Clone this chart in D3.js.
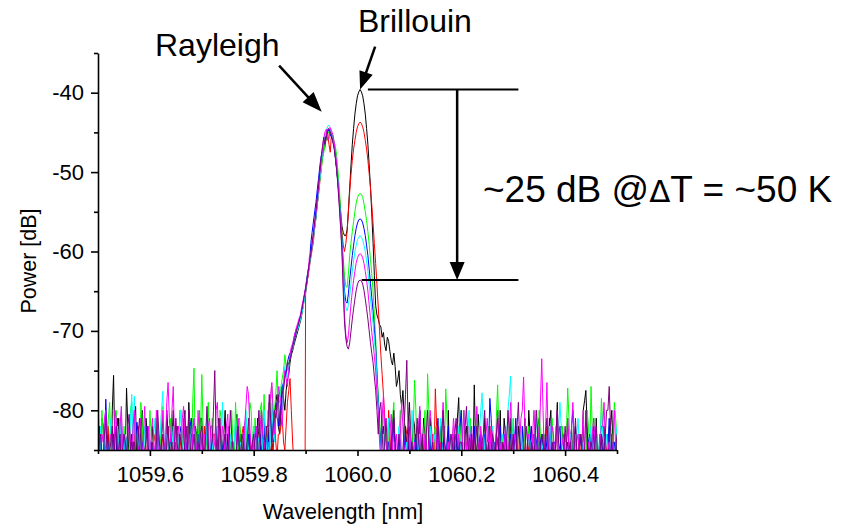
<!DOCTYPE html>
<html><head><meta charset="utf-8">
<script src="https://cdn.jsdelivr.net/npm/d3@7"></script>
<style>
body{margin:0;background:#fff}
svg{display:block}
text{font-family:"Liberation Sans",Arial,Helvetica,sans-serif;fill:#000}
</style>
</head><body>
<svg id="chart" width="846" height="525"></svg>
<script>
// ---------- data ----------
// sampling grid of the spectrum (nm): main samples every wlStep, "mid" samples half a step later
const wlStart = 1059.5;
const wlStep = 0.005;
const xTicksMajor = [1059.6, 1059.8, 1060.0, 1060.2, 1060.4];
const xTicksMinor = [1059.5, 1059.7, 1059.9, 1060.1, 1060.3, 1060.5];
const yTicksMajor = [-80, -70, -60, -50, -40];
const yTicksMinor = [-85, -75, -65, -55, -45, -35];
const seriesNames = ["black", "red", "green", "blue", "cyan", "magenta", "purple"];
const seriesColors = ["#000000", "#ff0000", "#00ff00", "#0000ff", "#00ffff", "#ff00ff", "#800080"];

// power [dB], main samples (201 per series)
const sBlack = [
-84,-88,-82,-86,-83,-90,-75.6,-86,-81,-88,
-83,-77.2,-87,-84,-81,-89,-85,-80,-87,-83,
-88,-82,-86,-84,-90,-81,-86,-83,-88,-80,
-86,-84,-89,-82,-87,-79,-85,-88,-83,-86,
-81,-89,-84,-87,-82,-86,-90,-83,-85,-80,
-87,-84,-88,-82,-86,-83,-89,-81,-85,-87,
-82,-88,-84,-80,-86,-83,-79,-85,-81,-78,
-83,-77,-80,-76,-74,-72.5,-71.2,-70,-68.8,-67,
-65.2,-62.8,-60.5,-58.2,-55.8,-52.4,-49.2,-47.2,-45.3,-44.7,
-45.5,-46.8,-49.8,-53.2,-56.8,-58,-57.3,-51.9,-46.5,-42.7,
-40.4,-39.6,-40.4,-42.7,-46.5,-51.9,-58.9,-66.8,-68.5,-69.5,
-70.2,-72.5,-71.3,-73.7,-72.8,-77,-75,-79.5,-81,-84,
-79,-86,-82,-88,-80,-85,-83,-89,-81,-86,
-84,-88,-82,-85,-90,-80,-86,-83,-88,-78.4,
-85,-87,-82,-89,-84,-76.8,-86,-83,-88,-81,
-85,-87,-82,-89,-84,-80,-86,-83,-88,-81,
-85,-90,-82,-86,-84,-88,-80,-85,-83,-89,
-81,-86,-84,-88,-82,-85,-90,-79,-86,-83,
-88,-81,-85,-87,-82,-89,-84,-80,-77.5,-86,
-83,-88,-81,-85,-87,-82,-89,-84,-80,-86,
-83];
const sRed = [
-87,-83,-89,-85,-82,-88,-84,-90,-86,-81,
-88,-84,-86,-90,-83,-87,-85,-82,-89,-84,
-86,-88,-83,-90,-85,-84,-87,-82,-89,-86,
-84,-88,-85,-81,-87,-89,-83,-86,-90,-84,
-87,-82,-88,-85,-89,-83,-86,-84,-90,-85,
-88,-83,-86,-89,-84,-87,-82,-88,-85,-90,
-84,-87,-83,-89,-86,-82,-88,-84,-80,-86,
-83,-81,-85,-79,-76,-84,-88,-120,-120,-120,
-65,-63,-60.8,-58.8,-55.2,-52.8,-49.6,-46.8,-45.2,-46.5,
-45,-46.6,-49.5,-53,-57.5,-60,-57.5,-52.5,-48.5,-46,
-44.3,-43.7,-44.3,-46,-48.5,-52,-56.5,-61.5,-67,-73,
-78,-84,-80,-87,-82,-89,-84,-86,-90,-83,
-87,-85,-89,-82,-86,-88,-84,-90,-85,-83,
-77.3,-88,-84,-86,-89,-83,-87,-85,-90,-82,
-86,-88,-84,-87,-89,-83,-86,-90,-84,-88,
-85,-82,-87,-89,-84,-86,-90,-83,-87,-85,
-88,-82,-86,-89,-84,-87,-85,-90,-83,-86,
-88,-84,-89,-82,-87,-85,-90,-84,-86,-88,
-83,-89,-85,-87,-84,-90,-86,-82,-88,-85,
-87,-83,-89,-86,-84,-88,-85,-90,-83,-87,
-85];
const sGreen = [
-79,-86,-83,-88,-81,-85,-89,-80,-87,-84,
-82,-88,-85,-79,-86,-83,-89,-81,-87,-84,
-80,-86,-88,-83,-85,-79.5,-87,-84,-81,-89,
-83,-86,-80,-88,-85,-82,-87,-74.7,-84,-86,
-75.5,-88,-83,-86,-81,-89,-84,-80,-87,-85,
-82,-88,-84,-79,-86,-83,-89,-81,-85,-80,
-87,-83,-86,-79,-78,-85,-82,-77,-80,-75,
-79,-76,-73,-75,-73.5,-71.8,-70.5,-69.6,-68.5,-66.6,
-64.8,-62.5,-60,-58,-55,-52,-49.8,-47.5,-45.8,-44.9,
-45,-46.2,-48,-52,-58,-63,-64.5,-60.5,-57.5,-55,
-53.2,-52.7,-53.2,-55,-57.5,-61,-65,-71,-78,-84,
-80,-87,-82,-85,-79,-88,-83,-86,-81,-89,
-84,-86,-76.2,-87,-83,-88,-80,-75.4,-85,-88,
-82,-86,-84,-89,-77.3,-85,-87,-82,-88,-84,
-86,-80,-89,-83,-86,-88,-81,-85,-87,-83,
-89,-85,-82,-88,-76.8,-86,-83,-89,-84,-87,
-81,-86,-88,-83,-85,-89,-82,-86,-84,-88,
-80,-86,-83,-89,-85,-81,-87,-84,-88,-82,
-86,-77.2,-85,-88,-83,-86,-89,-84,-87,-82,
-77,-86,-83,-88,-78.5,-85,-87,-82,-88,-79,
-84];
const sBlue = [
-86,-84,-89,-78.6,-85,-88,-83,-87,-90,-82,
-86,-84,-88,-83,-89,-81.5,-86,-84,-90,-83,
-87,-85,-89,-82,-86,-88,-84,-90,-83,-87,
-85,-89,-82,-86,-84,-88,-81,-87,-85,-89,
-83,-86,-80.5,-88,-84,-87,-82,-89,-85,-86,
-83,-88,-84,-90,-82,-87,-85,-89,-83,-86,
-88,-82,-85,-87,-81,-84,-86,-80,-83,-79,
-81,-77,-75,-74,-72.8,-72,-70.2,-69.5,-68.2,-66.8,
-64.5,-62.3,-59,-56.3,-53.8,-50.8,-48,-46.5,-45.4,-44.6,
-45.6,-46.8,-49.6,-53.4,-58.5,-65,-66.5,-63.5,-60.5,-58,
-56.4,-55.9,-56.4,-58,-60.5,-64,-67.5,-72,-79,-85,
-82,-88,-84,-86,-81,-89,-83,-87,-85,-90,
-82,-86,-84,-88,-80,-87,-85,-89,-83,-86,
-88,-81,-87,-84,-89,-82,-86,-88,-83,-85,
-80,-87,-89,-84,-86,-82,-88,-85,-87,-83,
-89,-78.5,-86,-84,-88,-82,-87,-85,-89,-83,
-86,-81,-88,-84,-87,-85,-90,-82,-86,-84,
-88,-83,-89,-85,-81,-87,-84,-88,-82,-86,
-89,-84,-87,-80,-85,-88,-83,-86,-89,-84,
-87,-82,-86,-88,-83,-85,-89,-81,-86,-84,
-88];
const sCyan = [
-85,-82,-88,-84,-87,-81,-89,-83,-86,-80,
-88,-84,-86,-78,-78.2,-87,-83,-89,-82,-86,
-84,-88,-81,-86,-83,-77.6,-87,-84,-89,-82,
-86,-84,-80,-88,-83,-86,-89,-81,-85,-87,
-83,-88,-80,-86,-84,-89,-82,-87,-79,-85,
-88,-83,-86,-81,-89,-84,-87,-80,-85,-88,
-82,-86,-84,-89,-80,-85,-87,-79,-84,-81,
-77,-80,-74.5,-76,-73.2,-72.3,-70.8,-69.8,-68.5,-67.2,
-65,-62.6,-60.6,-58.4,-55.6,-52.6,-49.2,-46.2,-44.8,-44.1,
-45.2,-46.6,-49.2,-53.6,-59,-66,-67.5,-65.5,-62.5,-60,
-58.5,-58,-58.5,-60,-62.5,-66,-69,-73,-79.5,-86,
-83,-88,-81,-87,-84,-89,-82,-86,-88,-84,
-87,-80,-86,-89,-83,-87,-85,-88,-82,-86,
-84,-89,-81,-87,-85,-88,-83,-86,-89,-82,
-87,-84,-86,-80,-88,-85,-87,-83,-77.8,-86,
-84,-89,-82,-87,-85,-88,-83,-86,-80,-75.7,
-87,-84,-88,-82,-86,-89,-83,-87,-85,-81,
-88,-84,-86,-89,-82,-87,-85,-88,-79,-86,
-84,-89,-83,-87,-85,-81,-88,-84,-86,-89,
-82,-87,-84,-88,-80,-86,-83,-89,-85,-87,
-82];
const sMagenta = [
-82,-88,-84,-80,-87,-83,-89,-81,-86,-79.5,
-85,-88,-82,-86,-80,-89,-84,-87,-79.5,-85,
-88,-81,-86,-83,-89,-80,-85,-76.5,-84,-77,
-88,-82,-86,-79.5,-87,-84,-89,-81,-85,-80,
-87,-83,-88,-81,-86,-84,-79,-89,-82,-86,
-80.5,-88,-84,-87,-81,-86,-89,-79.5,-78,-85,
-88,-82,-86,-80,-84,-87,-81,-76.5,-83,-80,
-78,-82,-75,-77,-73,-71.6,-70.2,-69,-68,-66.2,
-64.6,-62.8,-60.4,-58,-55.2,-52,-48.6,-45.8,-44.6,-45.8,
-44.8,-46.2,-49,-54,-59.5,-68,-71.5,-68.5,-65,-62.5,
-60.8,-60.3,-60.8,-62.5,-65,-68.5,-71.5,-75,-80,-86,
-78,-84,-88,-80.5,-86,-83,-89,-79,-85,-87,
-81,-88,-84,-86,-79.5,-89,-83,-87,-80,-85,
-88,-82,-86,-79,-87,-84,-89,-81,-86,-83,
-88,-80,-85,-87,-82,-89,-79.5,-86,-84,-88,
-81,-86,-83,-89,-80,-85,-87,-82,-88,-79,
-86,-84,-89,-81,-75.8,-87,-83,-88,-80,-86,
-84,-73.5,-86,-76.5,-88,-82,-86,-80,-89,-84,
-87,-81,-86,-79,-88,-83,-86,-80,-89,-84,
-87,-81,-86,-88,-82,-79,-87,-84,-89,-80,
-86];
const sPurple = [
-88,-83,-86,-81,-89,-84,-87,-82,-85,-89,
-83,-86,-80.5,-88,-84,-87,-81,-89,-85,-82,
-87,-84,-89,-80,-86,-83,-88,-82,-85,-87,
-81,-86,-84,-89,-82,-80,-87,-83,-88,-85,
-82,-86,-79.5,-88,-84,-75,-87,-81,-86,-83,
-89,-80,-85,-88,-82,-86,-84,-89,-81,-86,
-83,-87,-80,-85,-88,-82,-78,-84,-80,-79,
-82,-78,-76,-74,-73.6,-72,-70.8,-69.4,-68.2,-66.5,
-64.8,-62.4,-60.3,-57.6,-54.8,-51.6,-48.2,-45.6,-45.6,-44.5,
-45.4,-47,-49.8,-54.4,-60,-69,-72,-71.5,-68.5,-66,
-64.1,-63.6,-64.1,-66,-68.5,-71.5,-74,-77.5,-83,-79,
-86,-81,-88,-84,-80,-87,-83,-89,-82,-73.7,
-86,-84,-88,-81,-86,-83,-89,-80,-86,-84,
-88,-82,-87,-80,-85,-89,-83,-86,-81,-88,
-84,-87,-79.5,-86,-83,-89,-82,-87,-84,-80,
-86,-88,-83,-86,-81,-89,-84,-87,-80,-86,
-83,-88,-79,-85,-87,-82,-89,-84,-86,-80,
-88,-83,-86,-81,-89,-84,-87,-80,-85,-88,
-82,-86,-84,-89,-81,-87,-83,-86,-80,-88,
-84,-86,-82,-89,-83,-86,-80,-77,-85,-88,
-83];

// power [dB], mid samples (200 per series, half a step after each main sample)
const mBlack = [
-87,-81,-89,-84,-86,-80,-85,-83,-90,-84,
-86,-82,-85,-88,-79.5,-86,-83,-88,-81,-86,
-84,-87,-81,-89,-83,-86,-80,-88,-84,-86,
-82,-88,-85,-80,-86,-83,-89,-82,-87,-81,
-86,-84,-88,-82,-85,-89,-81,-86,-83,-87,
-82,-89,-85,-80.5,-87,-84,-82,-88,-83,-86,
-85,-81,-87,-83,-82,-86,-80,-84,-79,-82,
-80,-78.5,-77.5,-75.5,-73,-71.8,-70.6,-69.4,-68,-66,
-64,-61.6,-59.4,-57,-54.1,-50.8,-48.1,-46.2,-44.9,-45,
-46.1,-48.2,-51.5,-55,-57.6,-58,-54.8,-49.1,-44.5,-41.4,
-39.9,-39.9,-41.4,-44.5,-49.1,-55.2,-63,-68,-69.2,-70.8,
-71.8,-70.8,-72.6,-74.3,-74.5,-76.2,-78,-77.5,-83,-82,
-83,-81,-86,-84,-87,-81,-86,-84,-88,-83,
-86,-84,-89,-82,-85,-87,-83,-86,-81,-85,
-88,-83,-86,-82,-87,-84,-80.5,-88,-84,-86,
-82,-86,-88,-83,-85,-87,-81,-86,-84,-88,
-83,-86,-84,-88,-81,-86,-83,-87,-85,-82,
-87,-83,-88,-85,-80,-86,-83,-87,-82,-85,
-84,-87,-82,-86,-88,-83,-85,-78.8,-82,-87,
-85,-84,-87,-83,-86,-84,-88,-82,-85,-87];
const mRed = [
-84,-87,-83,-88,-85,-82,-89,-84,-87,-85,
-83,-89,-85,-86,-88,-82,-86,-84,-87,-86,
-89,-84,-86,-87,-83,-88,-85,-86,-84,-88,
-86,-83,-87,-84,-88,-85,-89,-83,-86,-87,
-84,-89,-85,-87,-83,-86,-88,-82,-87,-84,
-86,-88,-84,-85,-89,-83,-86,-87,-84,-86,
-88,-85,-86,-84,-83,-87,-85,-86,-84,-83,
-82,-84,-82,-77.5,-80,-87,-100,-120,-120,-120,
-64,-61.9,-59.8,-57,-54,-51.2,-48.2,-46.9,-45,-47.5,
-45.8,-48,-51.2,-55.3,-59.2,-59,-55,-50.3,-47.1,-45,
-43.9,-43.9,-45,-47.1,-50.2,-54.1,-59,-64.2,-70,-75.5,
-81,-86,-83,-85,-88,-84,-87,-85,-82,-88,
-84,-88,-86,-84,-89,-85,-87,-83,-88,-86,
-82,-86,-89,-84,-87,-85,-83,-88,-86,-89,
-84,-87,-85,-88,-84,-86,-89,-83,-87,-85,
-88,-84,-86,-83,-87,-89,-85,-86,-84,-88,
-85,-87,-83,-88,-86,-84,-89,-85,-87,-84,
-86,-89,-84,-87,-85,-88,-83,-86,-89,-85,
-87,-84,-86,-88,-85,-83,-87,-89,-84,-86,
-88,-85,-87,-84,-86,-89,-83,-87,-85,-86];
const mGreen = [
-83,-80,-86,-84,-79,-88,-83,-85,-81,-87,
-84,-86,-80,-88,-83,-85,-79,-86,-82,-87,
-83,-85,-81,-87,-80,-86,-83,-88,-85,-82,
-88,-80,-85,-83,-87,-81,-79,-86,-80,-83,
-82,-85,-79,-87,-84,-83,-86,-81,-84,-88,
-85,-80,-87,-83,-81,-88,-84,-86,-79,-84,
-81,-85,-80,-84,-83,-80,-79,-82,-78,-79,
-77,-75,-74.5,-74,-72.5,-71,-70,-69,-67.6,-65.8,
-63.5,-61.3,-58.8,-56.8,-53.3,-51,-48.4,-46.4,-45.2,-45.4,
-45.4,-46.8,-50,-54.8,-60.8,-64.4,-62.8,-58.9,-56.2,-53.9,
-52.8,-52.8,-54,-56.1,-59.1,-62.8,-68,-75,-81,-82,
-85,-83,-88,-81,-86,-84,-80,-87,-85,-83,
-88,-82,-80,-85,-86,-83,-87,-80,-86,-83,
-87,-84,-82,-86,-81,-88,-84,-86,-83,-80,
-84,-87,-85,-81,-89,-84,-83,-87,-84,-86,
-82,-88,-85,-81,-83,-88,-85,-86,-82,-84,
-87,-83,-85,-86,-82,-84,-87,-85,-80,-86,
-83,-85,-87,-82,-86,-84,-82,-86,-85,-84,
-83,-81,-87,-84,-85,-88,-83,-86,-80,-85,
-83,-81,-85,-84,-82,-87,-84,-86,-83,-81];
const mBlue = [
-82,-87,-85,-83,-87,-84,-86,-81,-85,-87,
-83,-88,-85,-86,-84,-83,-88,-86,-82,-86,
-84,-87,-83,-86,-84,-85,-88,-85,-86,-84,
-88,-83,-87,-84,-86,-82,-85,-88,-83,-86,
-85,-84,-87,-83,-86,-84,-88,-85,-83,-88,
-86,-84,-87,-83,-85,-86,-83,-84,-87,-85,
-84,-86,-83,-82,-85,-83,-81,-84,-80,-82,
-79,-76.5,-75.5,-73.2,-72.5,-71,-69.7,-68.8,-67.6,-65.6,
-63.3,-61.4,-57.6,-55,-52.2,-49.2,-47.4,-46,-44.9,-45.3,
-46,-48.2,-51.5,-56,-62,-66.3,-65.3,-62,-59.2,-57.1,
-56,-56,-57.1,-59.2,-62.2,-65.8,-69.8,-75.5,-82,-83,
-86,-84,-87,-83,-85,-86,-84,-88,-82,-86,
-84,-87,-83,-85,-84,-88,-86,-84,-87,-85,
-84,-86,-85,-87,-84,-88,-85,-84,-86,-82,
-85,-88,-86,-83,-87,-85,-86,-83,-84,-88,
-85,-81,-88,-86,-84,-85,-83,-87,-84,-86,
-84,-85,-86,-82,-85,-88,-84,-86,-83,-87,
-84,-86,-83,-87,-85,-84,-86,-83,-87,-85,
-85,-86,-82,-84,-87,-85,-84,-88,-86,-83,
-85,-84,-88,-85,-86,-83,-85,-87,-84,-86];
const mCyan = [
-88,-85,-83,-86,-84,-87,-85,-82,-84,-87,
-83,-87,-81,-84,-86,-85,-84,-86,-87,-83,
-86,-83,-85,-84,-80,-85,-83,-86,-85,-84,
-87,-82,-85,-86,-84,-83,-85,-86,-84,-83,
-86,-85,-84,-83,-87,-85,-84,-83,-86,-84,
-85,-86,-84,-86,-85,-86,-83,-84,-86,-85,
-84,-83,-86,-84,-83,-84,-82,-83,-80,-79,
-79,-76,-75.5,-74.5,-72.6,-71.5,-70.2,-69.2,-67.8,-66,
-63.7,-61.7,-59.5,-57,-54,-50.8,-47.5,-45.3,-44.2,-44.5,
-45.7,-47.8,-51.2,-56.5,-63,-67,-66.7,-64,-61.2,-59.2,
-58.2,-58.2,-59.2,-61.2,-64.2,-67.5,-71,-76.5,-83,-84,
-85,-84,-86,-85,-87,-84,-85,-86,-85,-86,
-84,-83,-87,-85,-84,-86,-87,-84,-85,-83,
-86,-85,-84,-86,-87,-85,-84,-88,-85,-84,
-85,-86,-83,-84,-86,-87,-84,-80,-82,-85,
-86,-85,-84,-86,-87,-84,-85,-83,-78,-82,
-85,-86,-84,-85,-87,-85,-84,-86,-83,-84,
-86,-85,-87,-84,-85,-86,-86,-83,-82,-85,
-86,-85,-84,-86,-83,-85,-86,-85,-87,-84,
-85,-86,-83,-84,-83,-85,-86,-87,-86,-85];
const mMagenta = [
-86,-83,-81,-85,-84,-88,-80,-84,-82,-85,
-87,-83,-84,-82,-86,-85,-81,-83,-87,-82,
-83,-84,-80,-87,-83,-84,-79,-81,-80,-84,
-83,-85,-81,-84,-82,-87,-83,-84,-82,-86,
-83,-86,-82,-84,-85,-80,-84,-85,-83,-82,
-85,-84,-86,-83,-84,-87,-82,-77,-82,-84,
-83,-85,-82,-83,-86,-82,-78,-80,-81,-77,
-79,-77.5,-76,-75,-72,-70.8,-69.5,-68.4,-67,-65.4,
-63.8,-60.5,-59.1,-56.4,-53.5,-50.2,-47,-44.9,-46,-44.4,
-45.3,-47.6,-51.5,-56.8,-64,-70.5,-70.6,-66.6,-63.6,-61.4,
-60.4,-60.4,-61.5,-63.6,-66.7,-70.2,-73.2,-78,-84,-81,
-82,-87,-83,-85,-84,-87,-83,-82,-86,-83,
-84,-85,-87,-82,-85,-86,-84,-83,-82,-86,
-84,-85,-82,-84,-85,-88,-84,-83,-85,-86,
-83,-84,-82,-84,-86,-83,-84,-82,-85,-83,
-84,-82,-86,-84,-83,-84,-85,-84,-83,-84,
-83,-85,-84,-80,-82,-84,-86,-83,-84,-82,
-79,-80,-82,-84,-85,-83,-84,-87,-85,-83,
-84,-85,-82,-85,-84,-86,-84,-85,-86,-84,
-83,-84,-85,-84,-82,-84,-85,-86,-84,-85];
const mPurple = [
-84,-86,-83,-85,-85,-82,-84,-86,-83,-85,
-84,-82,-85,-84,-86,-83,-84,-85,-84,-86,
-85,-86,-84,-83,-84,-85,-84,-86,-84,-85,
-84,-83,-85,-84,-85,-84,-85,-85,-84,-83,
-85,-83,-84,-85,-80,-83,-84,-85,-84,-85,
-84,-83,-86,-84,-85,-83,-86,-84,-85,-84,
-85,-83,-84,-86,-84,-82,-81,-82,-81,-78,
-80,-77.2,-75,-74.2,-72.8,-71.4,-70,-68.8,-67.4,-65.6,
-63.6,-61.4,-59,-56.2,-53.2,-49.9,-46.8,-46.5,-44.6,-44.9,
-46.2,-48.3,-52,-57,-65,-71,-72.3,-70,-67.2,-64.9,
-63.7,-63.7,-64.9,-67.2,-70,-72.8,-75.8,-80,-80,-83,
-84,-85,-86,-82,-84,-85,-86,-85,-78,-82,
-85,-86,-84,-83,-85,-86,-83,-84,-85,-86,
-85,-84,-83,-84,-86,-85,-84,-83,-85,-84,
-85,-82,-84,-85,-86,-84,-85,-86,-83,-84,
-84,-85,-84,-83,-85,-86,-85,-84,-83,-85,
-86,-82,-84,-86,-85,-84,-86,-85,-83,-84,
-85,-84,-83,-85,-86,-85,-83,-84,-86,-85,
-84,-85,-86,-84,-85,-84,-85,-86,-84,-85,
-85,-84,-86,-85,-84,-83,-80,-82,-86,-85];

const seriesMain = [sBlack, sRed, sGreen, sBlue, sCyan, sMagenta, sPurple];
const seriesMid = [mBlack, mRed, mGreen, mBlue, mCyan, mMagenta, mPurple];

// annotation texts
const labelRayleigh = "Rayleigh";
const labelBrillouin = "Brillouin";
const xTitle = "Wavelength [nm]";
const yTitle = "Power [dB]";

// ---------- chart ----------
const svg = d3.select("#chart");
const W = 846, H = 525;
const plot = {left: 98, right: 617, top: 53, bottom: 450};

const x = d3.scaleLinear().domain([1059.5, 1060.5]).range([plot.left, plot.right]);
const y = d3.scaleLinear().domain([-85, -35]).range([plot.bottom, plot.top]);

svg.append("rect").attr("width", W).attr("height", H).attr("fill", "#fff");

svg.append("defs").append("clipPath").attr("id", "clip")
  .append("rect")
  .attr("x", plot.left).attr("y", plot.top)
  .attr("width", plot.right - plot.left).attr("height", plot.bottom - plot.top);

// merge main and mid samples into one ordered list of [wavelength, dB]
function samples(main, mid) {
  const pts = [];
  main.forEach((v, i) => {
    pts.push([wlStart + i * wlStep, v]);
    if (i < mid.length) pts.push([wlStart + (i + 0.5) * wlStep, mid[i]]);
  });
  return pts;
}

const line = d3.line().x(d => x(d[0])).y(d => y(d[1]));

const gLines = svg.append("g").attr("clip-path", "url(#clip)");
seriesMain.forEach((vals, k) => {
  gLines.append("path")
    .datum(samples(vals, seriesMid[k]))
    .attr("fill", "none")
    .attr("stroke", seriesColors[k])
    .attr("stroke-width", 1)
    .attr("d", line);
});

// axes
const fmtX = d3.format(".1f");
svg.append("g").attr("transform", `translate(0,${plot.bottom})`)
  .call(d3.axisBottom(x).tickValues(xTicksMajor).tickSize(6).tickSizeOuter(0)
        .tickPadding(10).tickFormat(fmtX));
svg.append("g").attr("transform", `translate(0,${plot.bottom})`)
  .call(d3.axisBottom(x).tickValues(xTicksMinor).tickSize(4).tickSizeOuter(0).tickFormat(""))
  .call(g => g.select(".domain").remove());

svg.append("g").attr("transform", `translate(${plot.left},0)`)
  .call(d3.axisLeft(y).tickValues(yTicksMajor).tickSize(7).tickSizeOuter(0)
        .tickPadding(7).tickFormat(d => String(d)));
svg.append("g").attr("transform", `translate(${plot.left},0)`)
  .call(d3.axisLeft(y).tickValues(yTicksMinor).tickSize(4).tickSizeOuter(0).tickFormat(""))
  .call(g => g.select(".domain").remove());

svg.selectAll(".domain").attr("stroke", "#000").attr("stroke-width", 1.6);
svg.selectAll(".tick line").attr("stroke", "#000").attr("stroke-width", 1.6);
svg.selectAll(".tick text")
  .attr("font-family", '"Liberation Sans",Arial,sans-serif')
  .attr("font-size", 22).attr("fill", "#000");

svg.append("text").attr("x", 343).attr("y", 519)
  .attr("text-anchor", "middle").attr("font-size", 21.5).text(xTitle);
svg.append("text").attr("transform", "translate(36,261) rotate(-90)")
  .attr("text-anchor", "middle").attr("font-size", 21.5).text(yTitle);

// arrows helper
function arrow(x1, y1, x2, y2, headLen, headW, sw) {
  const dx = x2 - x1, dy = y2 - y1, L = Math.hypot(dx, dy);
  const ux = dx / L, uy = dy / L;
  const bx = x2 - ux * headLen, by = y2 - uy * headLen;
  svg.append("line").attr("x1", x1).attr("y1", y1).attr("x2", bx + ux).attr("y2", by + uy)
    .attr("stroke", "#000").attr("stroke-width", sw);
  const px = -uy * headW / 2, py = ux * headW / 2;
  svg.append("path")
    .attr("d", `M${x2},${y2}L${bx + px},${by + py}L${bx - px},${by - py}Z`)
    .attr("fill", "#000");
}

// peak levels taken from the data
const peakTop = d3.max(sBlack);
const peakBottom = d3.max(sPurple.slice(96, 108));

svg.append("line").attr("x1", x(1060.02)).attr("x2", x(1060.31))
  .attr("y1", y(peakTop)).attr("y2", y(peakTop))
  .attr("stroke", "#000").attr("stroke-width", 2);
svg.append("line").attr("x1", x(1060.008)).attr("x2", x(1060.31))
  .attr("y1", y(peakBottom)).attr("y2", y(peakBottom))
  .attr("stroke", "#000").attr("stroke-width", 2);
arrow(x(1060.192), y(peakTop), x(1060.192), y(peakBottom), 18, 15, 2.5);

// Rayleigh / Brillouin pointers
arrow(x(1059.849), y(-36.6), x(1059.931), y(-42.4), 20, 15, 2.5);
arrow(x(1060.034), y(-34.2), x(1060.005), y(peakTop), 18, 14, 2.5);

svg.append("text").attr("x", 155).attr("y", 56).attr("font-size", 32).text(labelRayleigh);
svg.append("text").attr("x", 358).attr("y", 32).attr("font-size", 32).text(labelBrillouin);

const big = svg.append("text").attr("x", 483).attr("y", 202).attr("font-size", 37);
big.append("tspan").text("~25 dB @");
big.append("tspan").attr("font-family", '"DejaVu Sans",sans-serif').attr("font-size", 31).text("Δ");
big.append("tspan").text("T = ~50 K");
</script>
</body></html>
